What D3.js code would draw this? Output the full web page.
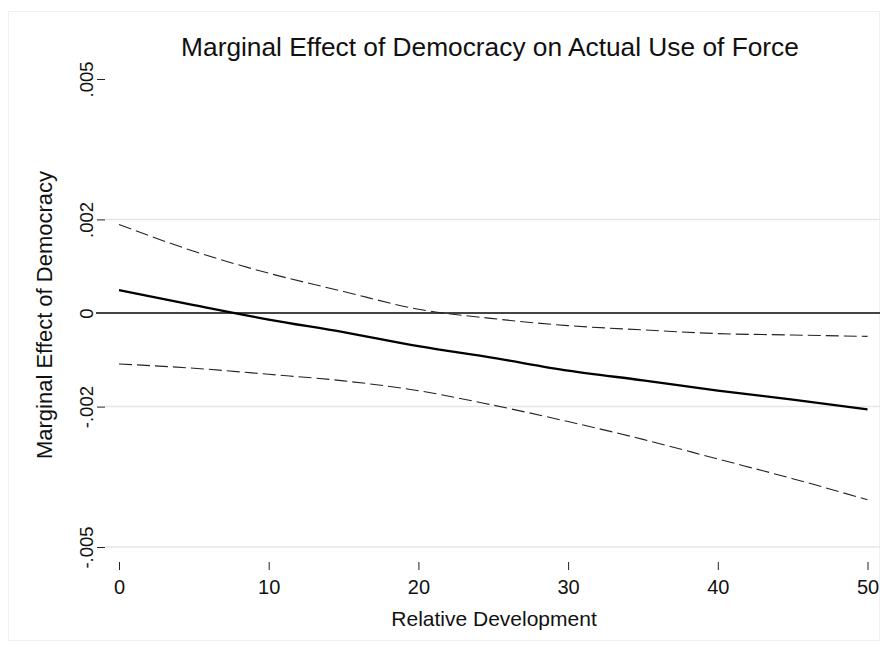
<!DOCTYPE html>
<html>
<head>
<meta charset="utf-8">
<script src="https://cdn.jsdelivr.net/npm/d3@7"></script>
<style>
  html, body { margin: 0; padding: 0; background: #fff; }
  svg { display: block; font-family: "Liberation Sans", Arial, sans-serif; }
</style>
</head>
<body>
<svg id="chart" width="888" height="652"></svg>
<script>
// ---- data ----
const relDev   = [0, 5, 10, 15, 20, 25, 30, 35, 40, 45, 50];
const effect   = [0.00049, 0.00017, -0.00014, -0.00041, -0.00071, -0.00096, -0.00123, -0.00144, -0.00166, -0.00185, -0.00206];
const upperCI  = [0.00189, 0.00132, 0.00085, 0.00046, 0.00008, -0.00012, -0.00027, -0.00036, -0.00044, -0.00047, -0.00050];
const lowerCI  = [-0.00109, -0.00118, -0.00131, -0.00145, -0.00166, -0.00197, -0.00232, -0.00270, -0.00312, -0.00354, -0.00399];
const xTicks   = [0, 10, 20, 30, 40, 50];
const yTicks   = [0.005, 0.002, 0, -0.002, -0.005];
const yTickLabels = [".005", ".002", "0", "-.002", "-.005"];
const yGridTicks  = [0.002, -0.002, -0.005];

const titleText = "Marginal Effect of Democracy on Actual Use of Force";
const xTitle = "Relative Development";
const yTitle = "Marginal Effect of Democracy";

// ---- layout ----
const svg = d3.select("#chart");
const plotLeft = 105, plotRight = 880;

const x = d3.scaleLinear().domain([0, 50]).range([119, 867.5]);
const y = d3.scaleLinear().domain([-0.005, 0.005]).range([547, 79]);

// outer frame
svg.append("rect")
  .attr("x", 8.5).attr("y", 11.5)
  .attr("width", 871).attr("height", 629)
  .attr("fill", "none").attr("stroke", "#f0f0f0").attr("stroke-width", 1);

// gridlines
svg.append("g")
  .selectAll("line")
  .data(yGridTicks)
  .join("line")
  .attr("x1", plotLeft).attr("x2", plotRight)
  .attr("y1", d => y(d)).attr("y2", d => y(d))
  .attr("stroke", "#e6e6e6").attr("stroke-width", 1.5);

// y axis
const yAxis = d3.axisLeft(y)
  .tickValues(yTicks)
  .tickFormat((d, i) => yTickLabels[i])
  .tickSize(8).tickPadding(4);
const gy = svg.append("g").attr("transform", `translate(${plotLeft},0)`).call(yAxis);
gy.select(".domain").remove();
gy.selectAll(".tick line").attr("stroke", "#222").attr("stroke-width", 1);
gy.selectAll(".tick text")
  .attr("font-size", 18.5).attr("fill", "#111")
  .attr("x", null).attr("dy", null)
  .attr("text-anchor", "middle")
  .attr("transform", "translate(-12,0) rotate(-90)");

// x axis
const xAxis = d3.axisBottom(x).tickValues(xTicks).tickFormat(d3.format("d")).tickSize(8).tickPadding(9.5);
const gx = svg.append("g").attr("transform", "translate(0,562)").call(xAxis);
gx.select(".domain").remove();
gx.selectAll(".tick line").attr("stroke", "#222").attr("stroke-width", 1);
gx.selectAll(".tick text").attr("font-size", 20).attr("fill", "#111");

// zero reference line
svg.append("line")
  .attr("x1", 96).attr("x2", plotRight)
  .attr("y1", y(0)).attr("y2", y(0))
  .attr("stroke", "#444").attr("stroke-width", 1.8);

// lines
const pts = arr => relDev.map((v, i) => [v, arr[i]]);
const line = d3.line().x(d => x(d[0])).y(d => y(d[1])).curve(d3.curveMonotoneX);

svg.append("path").datum(pts(upperCI))
  .attr("d", line).attr("fill", "none")
  .attr("stroke", "#222").attr("stroke-width", 1.1).attr("stroke-dasharray", "13,5");
svg.append("path").datum(pts(lowerCI))
  .attr("d", line).attr("fill", "none")
  .attr("stroke", "#222").attr("stroke-width", 1.1).attr("stroke-dasharray", "13,5");
svg.append("path").datum(pts(effect))
  .attr("d", line).attr("fill", "none")
  .attr("stroke", "#000").attr("stroke-width", 2.3);

// titles
svg.append("text")
  .attr("x", 490).attr("y", 56)
  .attr("text-anchor", "middle").attr("font-size", 26.3).attr("fill", "#111")
  .text(titleText);

svg.append("text")
  .attr("x", 494).attr("y", 626)
  .attr("text-anchor", "middle").attr("font-size", 21).attr("fill", "#111")
  .text(xTitle);

svg.append("text")
  .attr("transform", "translate(52,315) rotate(-90)")
  .attr("text-anchor", "middle").attr("font-size", 22).attr("fill", "#111")
  .text(yTitle);
</script>
</body>
</html>
